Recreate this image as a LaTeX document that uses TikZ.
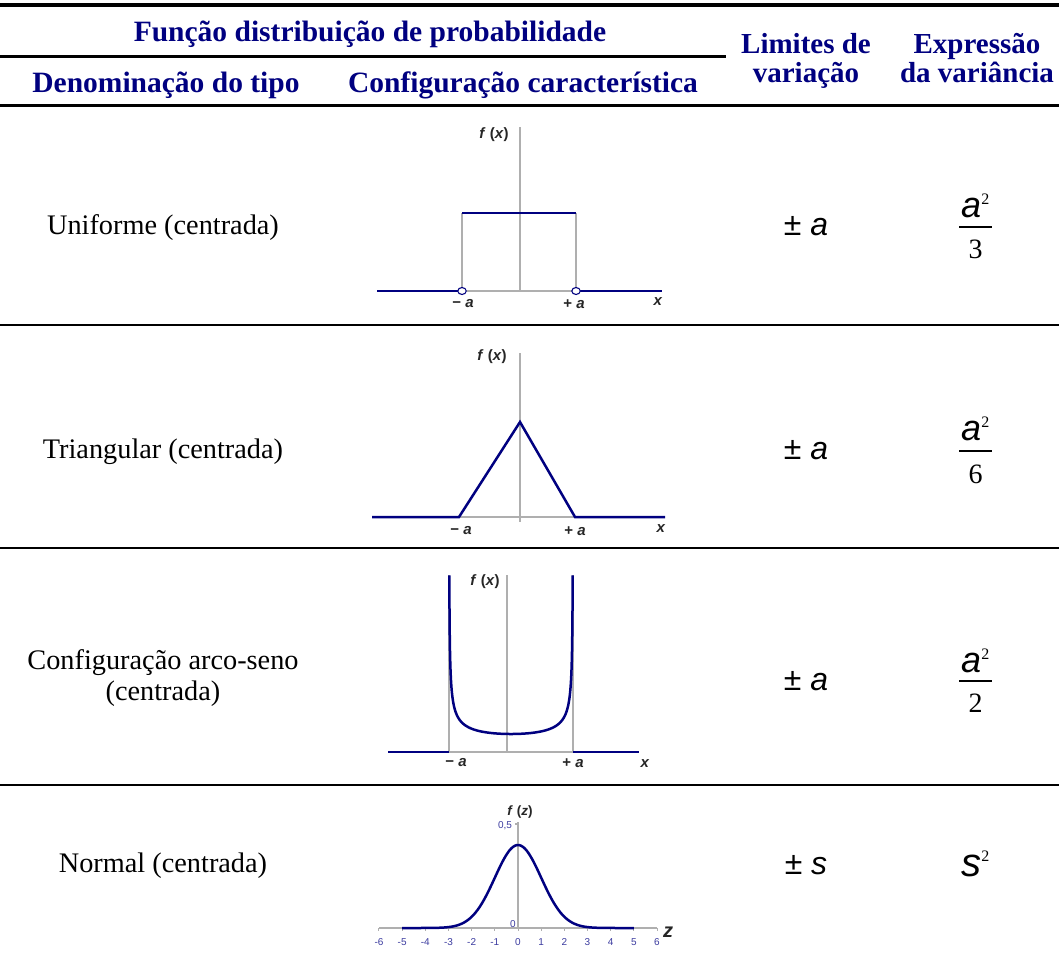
\documentclass[tikz,border=0pt]{standalone}
\usepackage{fontspec}
\usetikzlibrary{shapes.geometric}
\setmainfont{Liberation Serif}
\newfontfamily\arialf{Liberation Sans}
\definecolor{hdrblue}{RGB}{0,0,128}
\definecolor{curveblue}{RGB}{0,0,128}
\definecolor{axisgray}{RGB}{175,175,175}
\definecolor{ticklab}{RGB}{60,60,160}
\begin{document}
\begin{tikzpicture}[x=1pt,y=-1pt,
  hdr/.style={anchor=base, inner sep=0pt, text=hdrblue, font=\fontsize{29.5}{34}\selectfont\bfseries},
  hdrtwo/.style={anchor=north, inner sep=0pt, align=center, text=hdrblue, font=\fontsize{29}{29}\selectfont\bfseries},
  body/.style={anchor=base, inner sep=0pt, font=\fontsize{28.3}{32}\selectfont},
  pmstyle/.style={anchor=base, inner sep=0pt, font=\arialf\fontsize{32}{36}\selectfont},
  numstyle/.style={anchor=base, inner sep=0pt, font=\arialf\itshape\fontsize{36}{40}\selectfont},
  supstyle/.style={anchor=base west, inner sep=0pt, font=\fontsize{16}{18}\selectfont},
  denstyle/.style={anchor=base, inner sep=0pt, font=\fontsize{28}{32}\selectfont},
  lab/.style={inner sep=0pt, font=\arialf\bfseries\fontsize{15}{17}\selectfont, text=black!85},
  ticklabel/.style={inner sep=0pt, anchor=base, font=\arialf\fontsize{10}{12}\selectfont, text=ticklab},
  thickrule/.style={line width=3.5},
  thinrule/.style={line width=1.3},
  axis/.style={draw=axisgray, line width=1.5},
  curve/.style={draw=curveblue, line width=2.5},
  fracbar/.style={line width=1.3},
  hole/.style={ellipse, draw=curveblue, fill=white, line width=1.1, minimum width=8.5pt, minimum height=7pt, inner sep=0pt}
]
\useasboundingbox (0,0) rectangle (1059,963);
\fill[white] (0,0) rectangle (1059,963);

% ---------- header ----------
\draw[thickrule] (0,5) -- (1059,5);
\draw[line width=3] (0,57) -- (726,57);
\draw[line width=3] (0,106) -- (1059,106);
\node[hdr] (hfun) at (370,42) {Função distribuição de probabilidade};
\node[hdr] (hden) at (166,93) {Denominação do tipo};
\node[hdr] (hcfg) at (523,93) {Configuração característica};
\node[hdrtwo] (hlim) at (806,33) {Limites de\\variação};
\node[hdrtwo] (hexp) at (977,33) {Expressão\\da variância};

% ---------- row separators ----------
\draw[thinrule] (0,325) -- (1059,325);
\draw[thinrule] (0,548) -- (1059,548);
\draw[thinrule] (0,785) -- (1059,785);

% ---------- row 1 : uniforme ----------
\node[body] (n1) at (163,234) {Uniforme (centrada)};
\draw[axis] (520,127) -- (520,292);
\draw[axis] (462,213) -- (462,291);
\draw[axis] (576,213) -- (576,291);
\draw[axis] (462,291) -- (576,291);
\draw[curve] (377,291) -- (462,291);
\draw[curve] (576,291) -- (662,291);
\draw[curve] (462,213) -- (576,213);
\node[hole] (c1a) at (462,291) {};
\node[hole] (c1b) at (576,291) {};
\node[lab] (f1) at (494,135) {\textit{f} (\textit{x})};
\node[lab] (m1) at (463,304) {− \textit{a}};
\node[lab] (p1) at (574,304) {+ \textit{a}};
\node[lab] (x1) at (658,302) {\textit{x}};
\node[pmstyle] (pm1) at (806,235) {± \textit{a}};
\node[numstyle] (a1) at (971,217) {a};
\node[supstyle] (s1) at (a1.base east) [yshift=13pt] {2};
\draw[fracbar] (959,227) -- (992,227);
\node[denstyle] (d1) at (975.5,258) {3};

% ---------- row 2 : triangular ----------
\node[body] (n2) at (163,458) {Triangular (centrada)};
\draw[axis] (520,353) -- (520,522);
\draw[axis] (459,517) -- (575,517);
\draw[curve] (372,517) -- (459,517) -- (520,422) -- (575,517) -- (665,517);
\node[lab] (f2) at (492,357) {\textit{f} (\textit{x})};
\node[lab] (m2) at (461,531) {− \textit{a}};
\node[lab] (p2) at (575,531) {+ \textit{a}};
\node[lab] (x2) at (661,529) {\textit{x}};
\node[pmstyle] (pm2) at (806,459) {± \textit{a}};
\node[numstyle] (a2) at (971,440) {a};
\node[supstyle] (s2) at (a2.base east) [yshift=13pt] {2};
\draw[fracbar] (959,451) -- (992,451);
\node[denstyle] (d2) at (975.5,483) {6};

% ---------- row 3 : arco-seno ----------
\node[body] (n3a) at (163,669) {Configuração arco-seno};
\node[body] (n3b) at (163,700) {(centrada)};
\draw[axis] (449,575) -- (449,752);
\draw[axis] (573,575) -- (573,752);
\draw[axis] (507,575) -- (507,753);
\draw[axis] (449,752) -- (573,752);
\draw[curve] (388,752) -- (449,752);
\draw[curve] (573,752) -- (639,752);
\draw[curve] plot[domain=-84.15:84.15, samples=161, smooth] ({511+62*sin(\x)},{752-18/cos(\x)});
\node[lab] (f3) at (485,582) {\textit{f} (\textit{x})};
\node[lab] (m3) at (456,763) {− \textit{a}};
\node[lab] (p3) at (573,763) {+ \textit{a}};
\node[lab] (x3) at (645,764) {\textit{x}};
\node[pmstyle] (pm3) at (806,690) {± \textit{a}};
\node[numstyle] (a3) at (971,672) {a};
\node[supstyle] (s3) at (a3.base east) [yshift=13pt] {2};
\draw[fracbar] (959,681) -- (992,681);
\node[denstyle] (d3) at (975.5,712) {2};

% ---------- row 4 : normal ----------
\node[body] (n4) at (163,872) {Normal (centrada)};
\draw[axis, line width=1.2] (379,928) -- (657,928);
\draw[axis, line width=1.2] (518,822) -- (518,928);
\draw[axis, line width=1.2] (515,824) -- (518,824);
\foreach \k in {-6,...,6} {
  \pgfmathtruncatemacro\idx{\k+6}
  \draw[axis, line width=1] ({518+23.17*\k},928) -- ({518+23.17*\k},931);
  \node[ticklabel] (tk\idx) at ({518+23.17*\k},945) {\k};
}
\draw[curve] plot[domain=-5:5, samples=161, smooth] ({518+23.17*\x},{928-208*0.398942*exp(-0.5*\x*\x)});
\node[ticklabel] (half) at (505,828) {0,5};
\node[ticklabel] (zero) at (513,927) {0};
\node[lab, font=\arialf\bfseries\fontsize{13.5}{15}\selectfont] (f4) at (520,812) {\textit{f} (\textit{z})};
\node[lab, font=\arialf\bfseries\fontsize{20}{22}\selectfont] (z4) at (668,932) {\textit{z}};
\node[pmstyle] (pm4) at (806,874) {± \textit{s}};
\node[numstyle, font=\arialf\itshape\fontsize{40}{44}\selectfont] (sg) at (971,876) {s};
\node[supstyle] (s4) at (sg.base east) [yshift=15pt] {2};
\end{tikzpicture}
\end{document}
